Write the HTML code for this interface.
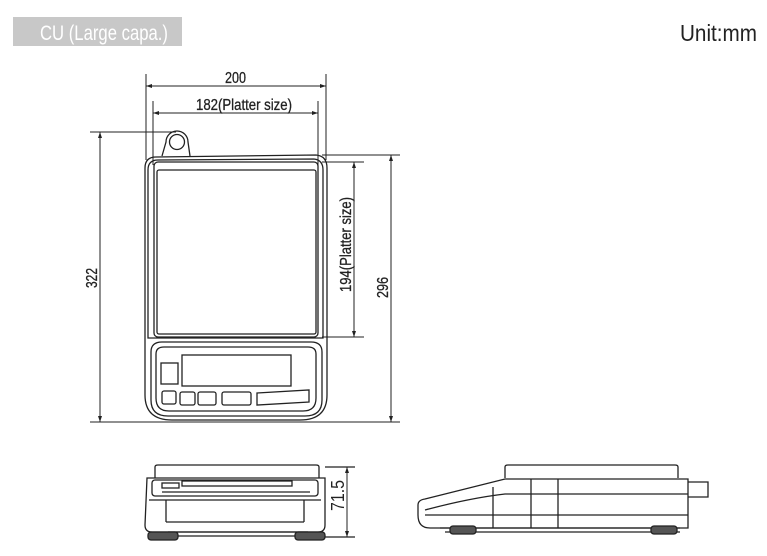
<!DOCTYPE html>
<html><head><meta charset="utf-8"><style>
html,body{margin:0;padding:0;background:#fff}
svg{display:block}
text{font-family:"Liberation Sans",sans-serif}
</style></head><body>
<svg width="767" height="556" viewBox="0 0 767 556" xmlns="http://www.w3.org/2000/svg">
<rect x="13" y="17" width="169" height="29" fill="#c8c8c8"/>
<text x="40" y="40" font-size="21" fill="#fff" textLength="128" lengthAdjust="spacingAndGlyphs">CU (Large capa.)</text>
<text x="680" y="41" font-size="23" fill="#222" textLength="77" lengthAdjust="spacingAndGlyphs">Unit:mm</text>

<g stroke="#222" fill="none" stroke-width="1">
<line x1="146" y1="74" x2="146" y2="160"/><line x1="326" y1="74" x2="326" y2="160"/>
<line x1="146" y1="86" x2="326" y2="86"/>
<line x1="153" y1="101" x2="153" y2="165"/><line x1="318" y1="101" x2="318" y2="165"/>
<line x1="153" y1="113" x2="318" y2="113"/>
<line x1="90" y1="132" x2="176" y2="132"/>
<line x1="90" y1="422" x2="400" y2="422"/>
<line x1="100" y1="132" x2="100" y2="422"/>
<line x1="322" y1="155" x2="400" y2="155"/>
<line x1="391" y1="155" x2="391" y2="422"/>
<line x1="322" y1="162" x2="364" y2="162"/><line x1="322" y1="337" x2="364" y2="337"/>
<line x1="354" y1="162" x2="354" y2="337"/>
</g>
<g fill="#222">
<path d="M146 86l6 -2v4z M326 86l-6 -2v4z M153 113l6 -2v4z M318 113l-6 -2v4z M100 132l-2 6h4z M100 422l-2 -6h4z M391 155l-2 6h4z M391 422l-2 -6h4z M354 162l-2 6h4z M354 337l-2 -6h4z"/>
</g>
<g font-size="16" fill="#222" stroke="#222" stroke-width="0.3">
<text x="225" y="83" textLength="21" lengthAdjust="spacingAndGlyphs">200</text>
<text x="196" y="110" textLength="96" lengthAdjust="spacingAndGlyphs">182(Platter size)</text>
<text transform="translate(97,288) rotate(-90)" textLength="20" lengthAdjust="spacingAndGlyphs">322</text>
<text transform="translate(388,298) rotate(-90)" textLength="21" lengthAdjust="spacingAndGlyphs">296</text>
<text transform="translate(351,292) rotate(-90)" textLength="95" lengthAdjust="spacingAndGlyphs">194(Platter size)</text>
</g>

<g stroke="#222" fill="none" stroke-width="1.3">
<path d="M162 156 L166 142 A11 11 0 0 1 188 142 L190 156"/>
<circle cx="177" cy="142" r="7.5"/>
<path d="M145 168 Q145 157 156 157 L316 155 Q327 156 327 168 L327 395 Q327 420 300 420 L172 420 Q145 420 145 395 Z"/>
<path d="M148 170 Q148 160 158 160 L314 159 Q323 160 323 170 L323 338 L148 338 Z"/>
<rect x="154" y="162" width="164" height="175" rx="4"/>
<rect x="157" y="170" width="159" height="164" rx="2"/>
<path d="M151 352 Q151 342 162 342 L311 342 Q322 342 322 352 L322 400 Q322 416 305 416 L168 416 Q151 416 151 400 Z"/>
<path d="M156 354 Q156 347 164 347 L308 347 Q316 347 316 354 L316 398 Q316 411 303 411 L169 411 Q156 411 156 398 Z"/>
<rect x="182" y="355" width="109" height="31"/>
<rect x="161" y="363" width="17" height="21"/>
<rect x="162" y="391" width="14" height="13" rx="2"/>
<rect x="180" y="392" width="15" height="13" rx="2"/>
<rect x="198" y="392" width="18" height="13" rx="2"/>
<rect x="222" y="392" width="29" height="13" rx="2"/>
<path d="M257 393 L309 390 L309 402 L257 405 Z"/>
</g>

<g stroke="#222" fill="none" stroke-width="1.3">
<path d="M155 478 L155 467 Q155 465 158 465 L316 465 Q319 465 319 467 L319 478"/>
<path d="M147 478 L325 478 L325 525 Q325 532 318 532 L152 532 Q145 532 145 525 Z"/>
<rect x="152" y="480" width="166" height="16" rx="3"/>
<line x1="149" y1="500" x2="321" y2="500"/>
<line x1="166" y1="500" x2="166" y2="522"/><line x1="304" y1="500" x2="304" y2="522"/>
<line x1="166" y1="522" x2="304" y2="522"/>
<rect x="162" y="483" width="17" height="5"/>
<rect x="182" y="481" width="110" height="5"/>
<line x1="162" y1="492" x2="310" y2="492"/>
<line x1="168" y1="532" x2="308" y2="532"/>
<line x1="170" y1="536" x2="300" y2="536"/>
<rect x="148" y="532" width="30" height="8" rx="3" fill="#555"/>
<rect x="295" y="532" width="30" height="8" rx="3" fill="#555"/>
<line x1="325" y1="467" x2="355" y2="467"/>
<line x1="325" y1="537" x2="355" y2="537"/>
<line x1="347" y1="467" x2="347" y2="537" stroke-width="1"/>
</g>
<path d="M347 467l-2 6h4z M347 537l-2 -6h4z" fill="#222"/>
<text transform="translate(344,511) rotate(-90)" font-size="18" fill="#222" textLength="31" lengthAdjust="spacingAndGlyphs">71.5</text>

<g stroke="#222" fill="none" stroke-width="1.3">
<path d="M505 478 L505 467 Q505 465 508 465 L675 465 Q678 465 678 467 L678 478"/>
<path d="M505 479 L688 479 L688 528 L430 528 Q418 528 418 515 L418 505 Q418 500 425 499 Z"/>
<path d="M425 510 Q470 498 505 494 L688 494"/>
<line x1="425" y1="515" x2="688" y2="515"/>
<line x1="531" y1="479" x2="531" y2="528"/><line x1="558" y1="479" x2="558" y2="528"/>
<line x1="493" y1="487" x2="493" y2="528"/>
<line x1="440" y1="528" x2="680" y2="528"/>
<line x1="445" y1="532" x2="680" y2="532"/>
<path d="M688 482 L708 482 L708 497 L688 497"/>
<rect x="450" y="526" width="26" height="8" rx="3" fill="#555"/>
<rect x="651" y="526" width="26" height="8" rx="3" fill="#555"/>
</g>
</svg>
</body></html>
